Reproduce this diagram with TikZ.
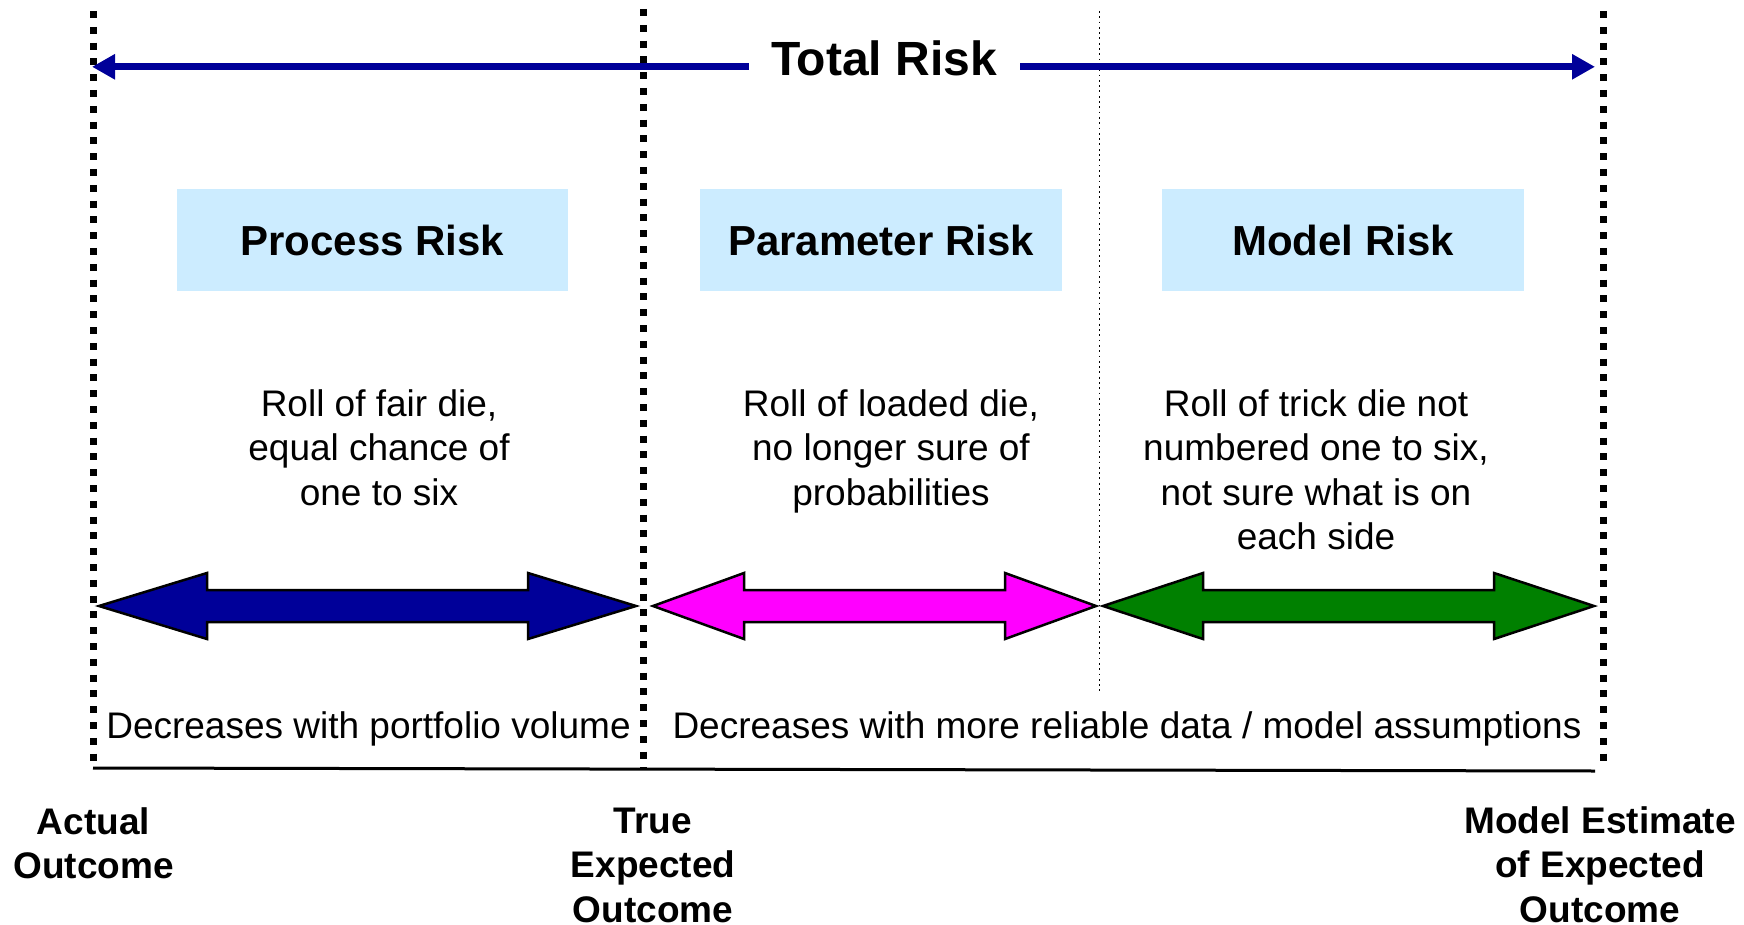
\documentclass[tikz,border=0pt]{standalone}
\usepackage{fontspec}
\setmainfont{Liberation Sans}
\usetikzlibrary{arrows.meta}
\definecolor{navy}{HTML}{000099}
\definecolor{boxblue}{HTML}{CCECFF}
\definecolor{procfill}{HTML}{000099}
\definecolor{paramfill}{HTML}{FF00FF}
\definecolor{modelfill}{HTML}{008000}

% wide double-headed block arrow: left tip, right tip, head length, fill colour
\newcommand{\blockarrow}[4]{%
  \filldraw[fill=#4, draw=black, line width=2.5pt, line join=miter]
    (#1,606) -- ({#1+#3},573) -- ({#1+#3},590) -- ({#2-#3},590)
    -- ({#2-#3},573) -- (#2,606) -- ({#2-#3},639) -- ({#2-#3},622)
    -- ({#1+#3},622) -- ({#1+#3},639) -- cycle;}

\tikzset{
  bound/.style={line width=7pt, dash pattern=on 7pt off 8.8pt},
  split/.style={line width=1.8pt, dash pattern=on 1.8pt off 3.5pt},
  riskbox/.style={fill=boxblue, inner sep=0pt, font=\fontsize{42}{50}\selectfont\bfseries},
  desc/.style={align=center, inner sep=0pt, font=\fontsize{37}{44.5}\selectfont},
  outcome/.style={align=center, inner sep=0pt, font=\fontsize{37}{44.5}\selectfont\bfseries},
  note/.style={inner sep=0pt, font=\fontsize{37}{44.5}\selectfont},
  totalarrow/.style={draw=navy, line width=7pt, -{Triangle[length=23pt,width=24pt]}},
}

\begin{document}
\begin{tikzpicture}[x=1pt, y=-1pt]
  \useasboundingbox (0,0) rectangle (1744,925);

  % outcome boundaries
  \coordinate (aTop) at (93.5,11);   \coordinate (aBot) at (93.5,768);
  \coordinate (tTop) at (643.5,9);   \coordinate (tBot) at (643.5,768);
  \coordinate (mTop) at (1603,11);   \coordinate (mBot) at (1603,768);
  \coordinate (sTop) at (1099.5,11); \coordinate (sBot) at (1099.5,692);
  \draw[bound] (aTop) -- (aBot);
  \draw[bound] (tTop) -- (tBot);
  \draw[bound] (mTop) -- (mBot);
  \draw[split] (sTop) -- (sBot);

  % base line
  \coordinate (baseL) at (93,768);
  \coordinate (baseR) at (1595,771);
  \draw[line width=3pt] (baseL) -- (baseR);

  % total risk
  \node[inner sep=0pt, anchor=base, font=\fontsize{48}{56}\selectfont\bfseries]
    (total) at (884,75.6) {Total Risk};
  \coordinate (totL) at (92,66.8);
  \coordinate (totR) at (1595,66.8);
  \draw[totalarrow] ([xshift=-22pt]total.west |- totL) -- (totL);
  \draw[totalarrow] ([xshift=23pt]total.east |- totR) -- (totR);

  % risk categories
  \node[riskbox, minimum width=391pt, minimum height=102pt] (proc)  at (372.5,240) {Process Risk};
  \node[riskbox, minimum width=362pt, minimum height=102pt] (param) at (881,240)   {Parameter Risk};
  \node[riskbox, minimum width=362pt, minimum height=102pt] (model) at (1343,240)  {Model Risk};

  % descriptions (base anchor sits on the last line)
  \node[desc, anchor=base] (procd)  at (379,505)    {Roll of fair die,\\equal chance of\\one to six};
  \node[desc, anchor=base] (paramd) at (891,505)    {Roll of loaded die,\\no longer sure of\\probabilities};
  \node[desc, anchor=base] (modeld) at (1316,549.5) {Roll of trick die not\\numbered one to six,\\not sure what is on\\each side};

  % block arrows
  \blockarrow{99}{636}{108}{procfill}
  \blockarrow{653}{1096}{91}{paramfill}
  \blockarrow{1103}{1594}{100}{modelfill}

  % notes
  \node[note, anchor=base] (vol)  at (368.5,738) {Decreases with portfolio volume};
  \node[note, anchor=base] (data) at (1127,738)  {Decreases with more reliable data / model assumptions};

  % outcome labels
  \node[outcome, anchor=base] (actual) at (93.5,878.5) {Actual\\Outcome};
  \node[outcome, anchor=base] (true)   at (653,922)    {True\\Expected\\Outcome};
  \node[outcome, anchor=base] (est)    at (1600,922)   {Model Estimate\\of Expected\\Outcome};
\end{tikzpicture}
\end{document}
